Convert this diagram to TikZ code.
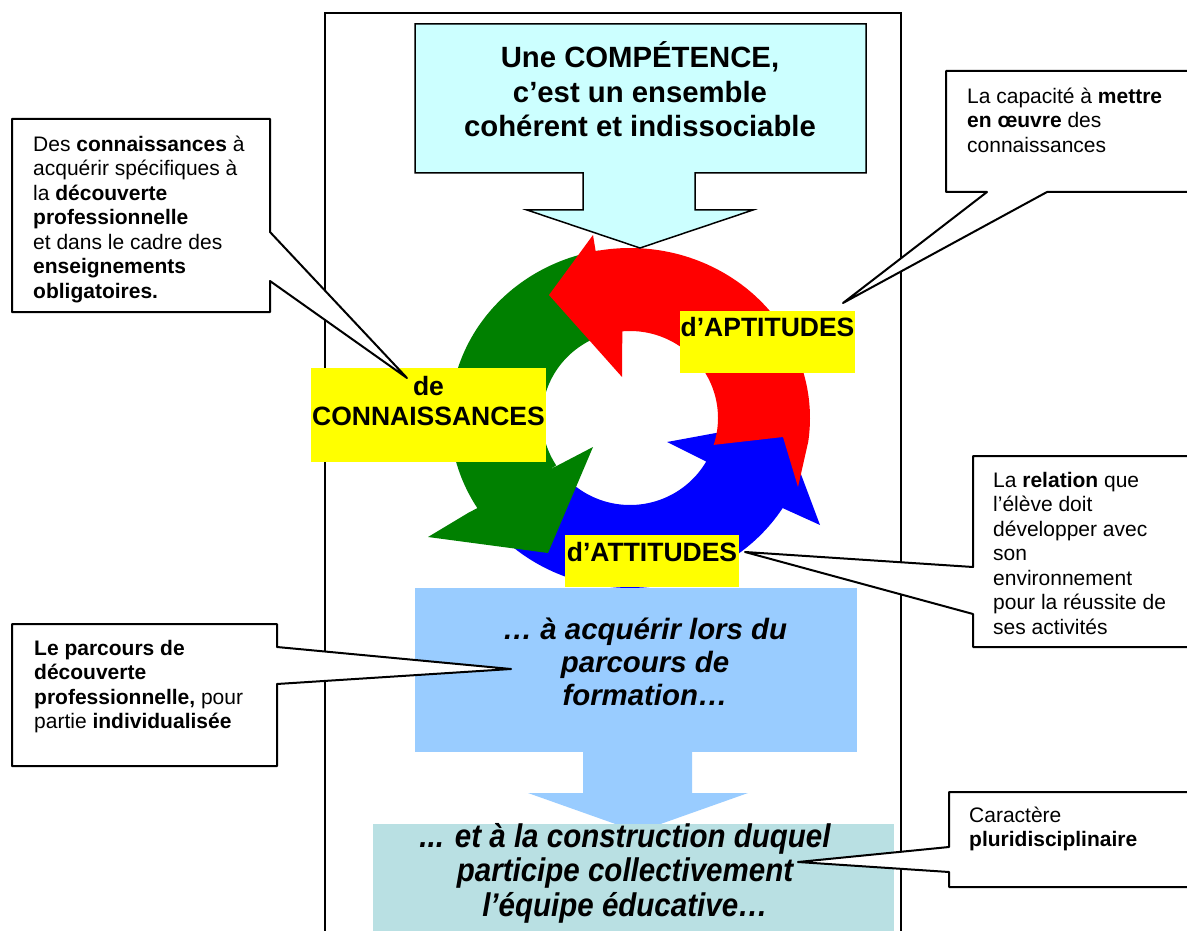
\documentclass[tikz,border=0pt]{standalone}
\usepackage{fontspec}
\setmainfont{Liberation Sans}
\newfontfamily\narrowfont{Liberation Sans}[FakeStretch=0.9]
\definecolor{cyanbox}{HTML}{CCFFFF}
\definecolor{midblue}{HTML}{99CCFF}
\definecolor{tealbox}{HTML}{B9E0E3}
\definecolor{ringgreen}{HTML}{008000}
\definecolor{ringred}{HTML}{FF0000}
\definecolor{ringblue}{HTML}{0000FF}
\definecolor{labyellow}{HTML}{FFFF00}
\newcommand{\firstline}{\rule{0pt}{1em}}
\tikzset{
  callout/.style={draw=black, fill=white, line width=2pt, line join=round},
  ctext/.style={anchor=north west, inner sep=0pt, align=left, font=\fontsize{21}{24.5}\selectfont},
  labbox/.style={fill=labyellow, inner sep=0pt, anchor=north west},
  labtext/.style={inner sep=0pt, font=\fontsize{26.5}{30}\selectfont\bfseries},
  boxfill/.style={inner sep=0pt, anchor=north west}
}
\begin{document}
\begin{tikzpicture}[x=1pt,y=-1pt]
\useasboundingbox (0,0) rectangle (1187,931);
\fill[white] (0,0) rectangle (1187,931);

% frame
\draw[line width=2pt] (325,940) -- (325,13) -- (901,13) -- (901,940);

% middle box and arrow
\node[boxfill, fill=midblue, minimum width=442pt, minimum height=164pt] (mid) at (415,588) {};
\fill[midblue] (583,750) -- (692,750) -- (692,793) -- (748,793) -- (638,832) -- (528,793) -- (583,793) -- cycle;
% bottom box
\node[boxfill, fill=tealbox, minimum width=521pt, minimum height=115pt] (bot) at (373,824) {};

% ring: blue, green, red
\fill[ringblue] plot[domain=225:328, samples=70] ({630+180*cos(\x)},{418-170*sin(\x)})
  -- (820,525) -- (781,421) -- (667,442) -- (707,462)
  -- plot[domain=330:225, samples=70] ({630+88*cos(\x)},{418-87*sin(\x)}) -- cycle;
\fill[ringgreen] plot[domain=100:212, samples=70] ({630+180*cos(\x)},{418-170*sin(\x)})
  -- (468,513) -- (428,537) -- (548,553) -- (593,447) -- (547,471)
  -- plot[domain=213:100, samples=70] ({630+88*cos(\x)},{418-87*sin(\x)}) -- cycle;
\fill[ringred] plot[domain=-18:95, samples=70] ({630+88*cos(\x)},{418-87*sin(\x)})
  -- (622,377) -- (549,295) -- (593,235)
  -- plot[domain=101:-8, samples=70] ({630+180*cos(\x)},{418-170*sin(\x)})
  -- (798,487) -- (783,437) -- cycle;

% top callout arrow
\draw[fill=cyanbox, line width=1.5pt] (415,24) -- (866,24) -- (866,173) -- (695,173) -- (695,210)
  -- (753,210) -- (640,248) -- (527,210) -- (583,210) -- (583,173) -- (415,173) -- cycle;
\node[anchor=north, inner sep=0pt, align=center, font=\fontsize{29.3}{34.5}\selectfont\bfseries] (comp)
  at (640,38.2) {\firstline Une COMPÉTENCE,\\c’est un ensemble\\cohérent et indissociable};

% yellow labels
\node[labbox, minimum width=175pt, minimum height=62pt] (aptbox) at (680,311) {};
\node[labtext, anchor=base] (apt) at (767.5,336.5) {d’APTITUDES};
\node[labbox, minimum width=235pt, minimum height=94pt] (conbox) at (311,368) {};
\node[labtext, anchor=north, align=center] (con) at (428.5,369) {\firstline de\\CONNAISSANCES};
\node[labbox, minimum width=174pt, minimum height=52pt] (attbox) at (565,535) {};
\node[labtext, anchor=base] (att) at (652,561.5) {d’ATTITUDES};

% box texts
\node[anchor=north, inner sep=0pt, align=center, font=\fontsize{29.4}{33}\selectfont\bfseries\itshape] (midtext)
  at (645,609.6) {\firstline … à acquérir lors du\\parcours de\\formation…};
\node[anchor=north, inner sep=0pt, align=center, font=\narrowfont\fontsize{32.8}{34.5}\selectfont\bfseries\itshape] (bottext)
  at (625,814.2) {\firstline ... et à la construction duquel\\participe collectivement\\l’équipe éducative…};

% callouts
\draw[callout] (12,119) -- (270,119) -- (270,232) -- (407,378) -- (270,281) -- (270,312) -- (12,312) -- cycle;
\node[ctext] (c1) at (33,130) {\firstline Des \textbf{connaissances} à\\acquérir spécifiques à\\la \textbf{découverte}\\\textbf{professionnelle}\\et dans le cadre des\\\textbf{enseignements}\\\textbf{obligatoires.}};

\draw[callout] (946,71) -- (1195,71) -- (1195,192) -- (1047,192) -- (843,303) -- (987,192) -- (946,192) -- cycle;
\node[ctext] (c2) at (967,82) {\firstline La capacité à \textbf{mettre}\\\textbf{en œuvre} des\\connaissances};

\draw[callout] (973,456) -- (1195,456) -- (1195,647) -- (973,647) -- (973,614) -- (745,552) -- (973,567) -- cycle;
\node[ctext] (c3) at (993,466) {\firstline La \textbf{relation} que\\l’élève doit\\développer avec\\son\\environnement\\pour la réussite de\\ses activités};

\draw[callout] (12,624) -- (277,624) -- (277,647) -- (511,669) -- (277,684) -- (277,766) -- (12,766) -- cycle;
\node[ctext] (c4) at (34,634) {\firstline\textbf{Le parcours de}\\\textbf{découverte}\\\textbf{professionnelle,} pour\\partie \textbf{individualisée}};

\draw[callout] (949,792) -- (1195,792) -- (1195,887) -- (949,887) -- (949,872) -- (798,862) -- (949,847) -- cycle;
\node[ctext] (c5) at (969,801) {\firstline Caractère\\\textbf{pluridisciplinaire}};
\end{tikzpicture}
\end{document}
